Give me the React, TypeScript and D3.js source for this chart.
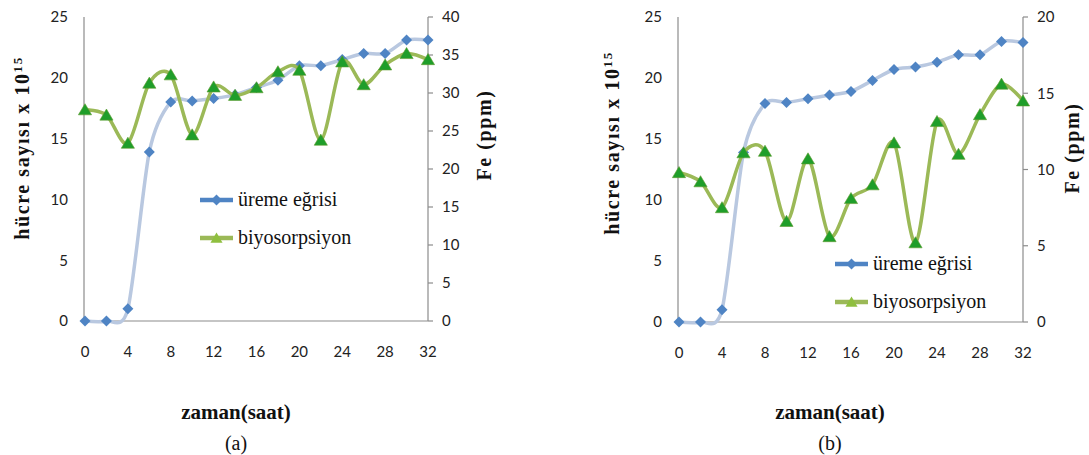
import React from "react";
import * as d3 from "d3";

const hours = [0, 2, 4, 6, 8, 10, 12, 14, 16, 18, 20, 22, 24, 26, 28, 30, 32];
const xTicks = [0, 4, 8, 12, 16, 20, 24, 28, 32];
const leftTicks = [0, 5, 10, 15, 20, 25];

// Panel (a)
const growthA = [0, 0, 1.0, 13.9, 18.0, 18.1, 18.3, 18.6, 19.2, 19.8, 21.0, 21.0, 21.5, 22.0, 22.0, 23.1, 23.1];
const biosorpA = [27.8, 27.1, 23.4, 31.3, 32.4, 24.5, 30.8, 29.7, 30.7, 32.8, 33.0, 23.8, 34.1, 31.1, 33.7, 35.2, 34.4];
const rightTicksA = [0, 5, 10, 15, 20, 25, 30, 35, 40];

// Panel (b)
const growthB = [0, 0, 1.0, 13.9, 17.9, 18.0, 18.3, 18.6, 18.9, 19.8, 20.7, 20.9, 21.3, 21.9, 21.9, 23.0, 22.9];
const biosorpB = [9.8, 9.2, 7.5, 11.1, 11.2, 6.6, 10.7, 5.6, 8.1, 9.0, 11.75, 5.2, 13.15, 11.0, 13.6, 15.6, 14.5];
const rightTicksB = [0, 5, 10, 15, 20];

const seriesNames = ["üreme eğrisi", "biyosorpsiyon"];
const xTitle = "zaman(saat)";
const rightTitle = "Fe (ppm)";

const BLUE_LINE = "#b9c8e0";
const BLUE_MARK = "#4f84c4";
const GREEN_LINE = "#9bb957";
const GREEN_MARK = "#1f9e2a";
const AXIS = "#8c8c8c";
const TICKFONT = "Lato, sans-serif";
const SERIF = "Liberation Serif, Times New Roman, serif";

type PanelProps = {
  growth: number[];
  biosorp: number[];
  rightTicks: number[];
  rightMax: number;
  x0: number;
  x1: number;
  y0: number;
  y1: number;
  yTitleX: number;
  yTitleY: number;
  fTitleX: number;
  fTitleY: number;
  xTitleX: number;
  label: string;
  legX: number;
  legY: number;
  legGap: number;
};

function diamond(cx: number, cy: number, r: number) {
  return `M${cx},${cy - r}L${cx + r},${cy}L${cx},${cy + r}L${cx - r},${cy}Z`;
}
function triangle(cx: number, cy: number, r: number) {
  return `M${cx},${cy - r}L${cx + r * 1.1},${cy + r * 0.85}L${cx - r * 1.1},${cy + r * 0.85}Z`;
}

function Panel(p: PanelProps) {
  const x = d3.scaleLinear().domain([0, 32]).range([p.x0, p.x1]);
  const yL = d3.scaleLinear().domain([0, 25]).range([p.y0, p.y1]);
  const yR = d3.scaleLinear().domain([0, p.rightMax]).range([p.y0, p.y1]);
  const lineL = d3
    .line<number>()
    .x((_, i) => x(hours[i]))
    .y((d) => yL(d))
    .curve(d3.curveCardinal.tension(0.2));
  const lineR = d3
    .line<number>()
    .x((_, i) => x(hours[i]))
    .y((d) => yR(d))
    .curve(d3.curveCardinal.tension(0.1));
  const axL = p.x0 - 1;
  return (
    <g>
      <line x1={axL} x2={axL} y1={p.y1} y2={p.y0} stroke={AXIS} strokeWidth={1.2} />
      <line x1={axL} x2={p.x1} y1={p.y0} y2={p.y0} stroke={AXIS} strokeWidth={1.2} />
      <line x1={p.x1} x2={p.x1} y1={p.y1} y2={p.y0} stroke={AXIS} strokeWidth={1.2} />
      {p.rightTicks.map((t) => (
        <g key={"r" + t}>
          <line x1={p.x1} x2={p.x1 + 5} y1={yR(t)} y2={yR(t)} stroke={AXIS} strokeWidth={1.2} />
          <text x={p.x1 + 14} y={yR(t)} dy="0.36em" fontFamily={TICKFONT} fontSize={15} fill="#222">
            {t}
          </text>
        </g>
      ))}
      {leftTicks.map((t) => (
        <text key={"l" + t} x={axL - 16} y={yL(t)} dy="0.36em" textAnchor="end" fontFamily={TICKFONT} fontSize={15} fill="#222">
          {t}
        </text>
      ))}
      {xTicks.map((t) => (
        <text key={"x" + t} x={x(t)} y={p.y0 + 31} dy="0.36em" textAnchor="middle" fontFamily={TICKFONT} fontSize={15} fill="#222">
          {t}
        </text>
      ))}
      <path d={lineL(p.growth) || ""} fill="none" stroke={BLUE_LINE} strokeWidth={3.5} />
      {p.growth.map((v, i) => (
        <path key={"g" + i} d={diamond(x(hours[i]), yL(v), 5.5)} fill={BLUE_MARK} />
      ))}
      <path d={lineR(p.biosorp) || ""} fill="none" stroke={GREEN_LINE} strokeWidth={3.5} />
      {p.biosorp.map((v, i) => (
        <path key={"b" + i} d={triangle(x(hours[i]), yR(v), 6)} fill={GREEN_MARK} stroke="#5e9a2e" strokeWidth={0.6} />
      ))}
      <g>
        <line x1={p.legX} x2={p.legX + 33} y1={p.legY} y2={p.legY} stroke={BLUE_MARK} strokeWidth={4.5} />
        <path d={diamond(p.legX + 16.5, p.legY, 5.5)} fill={BLUE_MARK} />
        <text x={p.legX + 38} y={p.legY} dy="0.3em" style={{ fontFamily: SERIF }} fontSize={20} fill="#111">
          {seriesNames[0]}
        </text>
        <line x1={p.legX} x2={p.legX + 33} y1={p.legY + p.legGap} y2={p.legY + p.legGap} stroke={GREEN_LINE} strokeWidth={4.5} />
        <path d={triangle(p.legX + 16.5, p.legY + p.legGap, 5.5)} fill="#8fbf3f" />
        <text x={p.legX + 38} y={p.legY + p.legGap} dy="0.3em" style={{ fontFamily: SERIF }} fontSize={20} fill="#111">
          {seriesNames[1]}
        </text>
      </g>
      <text
        transform={`translate(${p.yTitleX},${p.yTitleY}) rotate(-90)`}
        textAnchor="middle"
        dy="0.35em"
        style={{ fontFamily: SERIF }}
        fontWeight="bold"
        fontSize={20}
        letterSpacing={1.6}
        fill="#111"
      >
        hücre sayısı x 10
        <tspan fontSize={13} dy="-0.55em">15</tspan>
      </text>
      <text
        transform={`translate(${p.fTitleX},${p.fTitleY}) rotate(-90)`}
        textAnchor="middle"
        dy="0.35em"
        style={{ fontFamily: SERIF }}
        fontWeight="bold"
        fontSize={20}
        letterSpacing={1.6}
        fill="#111"
      >
        {rightTitle}
      </text>
      <text x={p.xTitleX} y={412} dy="0.35em" textAnchor="middle" style={{ fontFamily: SERIF }} fontWeight="bold" fontSize={21} fill="#111">
        {xTitle}
      </text>
      <text x={p.xTitleX} y={443} dy="0.35em" textAnchor="middle" style={{ fontFamily: SERIF }} fontSize={20} fill="#111">
        {p.label}
      </text>
    </g>
  );
}

export default function App() {
  return (
    <svg width={1089} height={455} style={{ position: "absolute", left: 0, top: 0, background: "#fff" }}>
      <rect width={1089} height={455} fill="#fff" />
      <Panel
        growth={growthA}
        biosorp={biosorpA}
        rightTicks={rightTicksA}
        rightMax={40}
        x0={85}
        x1={428}
        y0={321}
        y1={17}
        yTitleX={22}
        yTitleY={148}
        fTitleX={484}
        fTitleY={135}
        xTitleX={236}
        label="(a)"
        legX={200}
        legY={200}
        legGap={38}
      />
      <Panel
        growth={growthB}
        biosorp={biosorpB}
        rightTicks={rightTicksB}
        rightMax={20}
        x0={679}
        x1={1023}
        y0={322}
        y1={17}
        yTitleX={612}
        yTitleY={143}
        fTitleX={1072}
        fTitleY={148}
        xTitleX={830}
        label="(b)"
        legX={835}
        legY={264}
        legGap={38}
      />
    </svg>
  );
}
